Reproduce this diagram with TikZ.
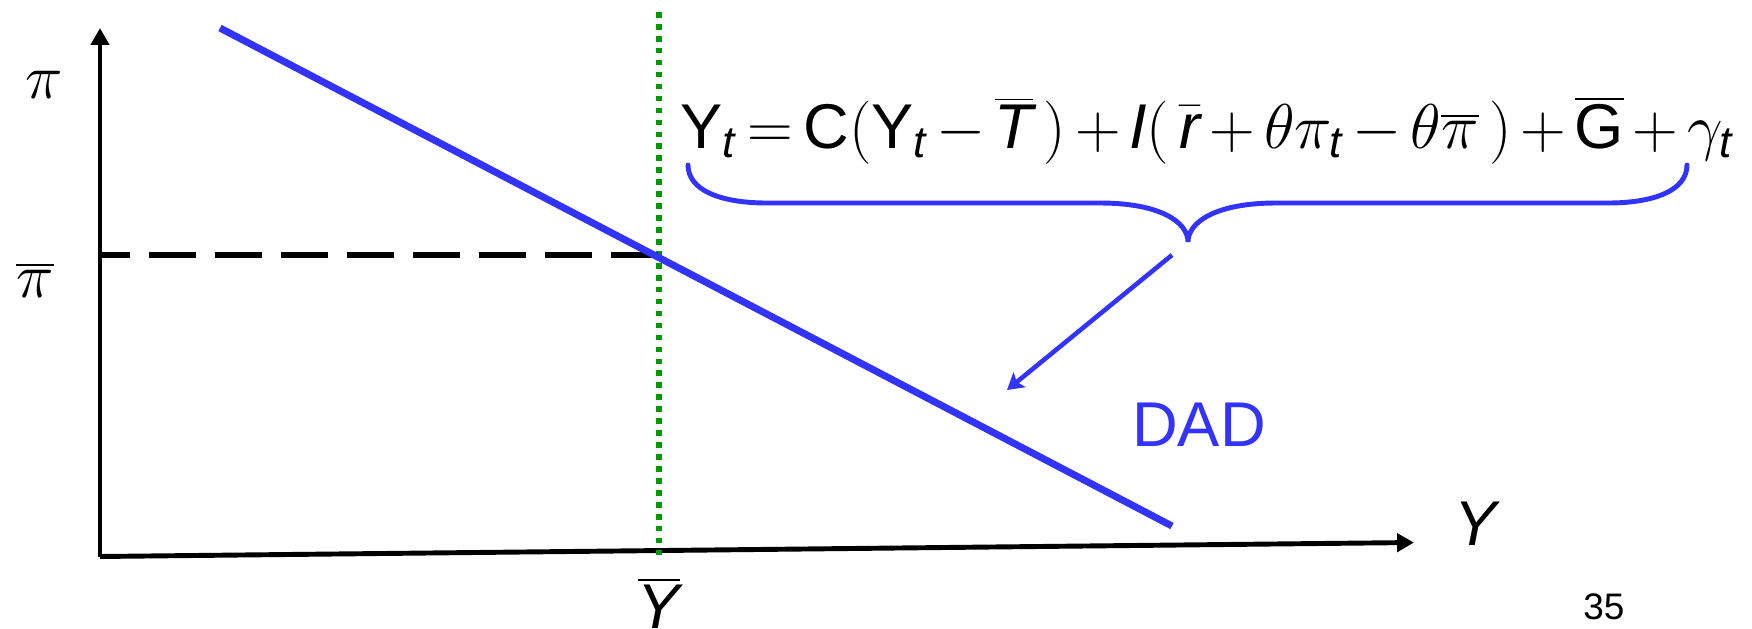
\documentclass[tikz,border=0pt]{standalone}
\usepackage{fix-cm}
\usepackage{fontspec}
\setmainfont{Liberation Sans}
\usetikzlibrary{arrows.meta}
\definecolor{dadblue}{RGB}{51,51,255}
\definecolor{potgreen}{RGB}{0,153,0}

\begin{document}
\begin{tikzpicture}[x=0.1mm, y=-0.1mm,
    axis/.style={line width=1.4pt, -{Triangle[length=4.8pt,width=5.1pt]}},
    lab/.style={font=\fontsize{18}{21}\selectfont},
    dadline/.style={dadblue, line width=2pt}]
    \useasboundingbox (0,0) rectangle (1752,628);

    % Draw Axes
    \coordinate (O) at (100,556.5);
    \draw[axis] (O) -- (100,28);
    \draw[axis] (O) -- (1414,542.5);

    % Axis labels
    \node[lab] (pi) at (44,85) {$\pi$};
    \node[lab] (pibar) at (35,280) {$\overline{\pi}$};
    \node[lab, anchor=north, inner sep=0pt] (Ybar) at (659,577) {$\overline{\mathit{Y}}$};
    \node[lab] (Ylab) at (1476,524) {$\mathit{Y}$};

    % Potential output and inflation target
    \draw[potgreen, line width=1.6pt, dash pattern=on 1.6pt off 1.8pt] (659,12) -- (659,557);
    \draw[line width=1.7pt, dash pattern=on 13.4pt off 5.4pt, dash phase=5pt] (100,255) -- (659,255);

    % DAD curve
    \draw[dadline] (220,28) -- (1172,526);
    \node[lab, text=dadblue] (dad) at (1199,425) {DAD};

    % Equation with brace
    \node[lab, anchor=base west, inner sep=0pt] (eq) at (680,148)
      {$\medmuskip=2.5mu\thickmuskip=3mu
        \mathrm{Y}_{\mathit{t}} = \mathrm{C}(\mathrm{Y}_{\mathit{t}} - \overline{\mathit{T}}\,) + \mathit{I}(\,\bar{\mathit{r}} + \theta\pi_{\mathit{t}} - \theta\overline{\pi}\,) + \overline{\mathrm{G}} + \gamma_{\mathit{t}}$};
    \draw[dadblue, line width=1.4pt, line cap=round] (688,165) .. controls (688,190) and (720,203) .. (767,203)
      -- (1100,203) .. controls (1160,203) and (1188,222) .. (1188,242)
      .. controls (1188,222) and (1216,203) .. (1276,203)
      -- (1608,203) .. controls (1655,203) and (1687,190) .. (1687,165);
    \coordinate (brace tip) at (1172,255);
    \coordinate (dad pt) at (1007,390);
    \draw[dadblue, line width=1.3pt, -{Stealth[length=4.6pt,width=5.4pt,inset=1pt]}] (brace tip) -- (dad pt);

    % Slide number
    \node[font=\fontsize{10.5}{12}\selectfont] (num) at (1604,607) {35};
\end{tikzpicture}
\end{document}
